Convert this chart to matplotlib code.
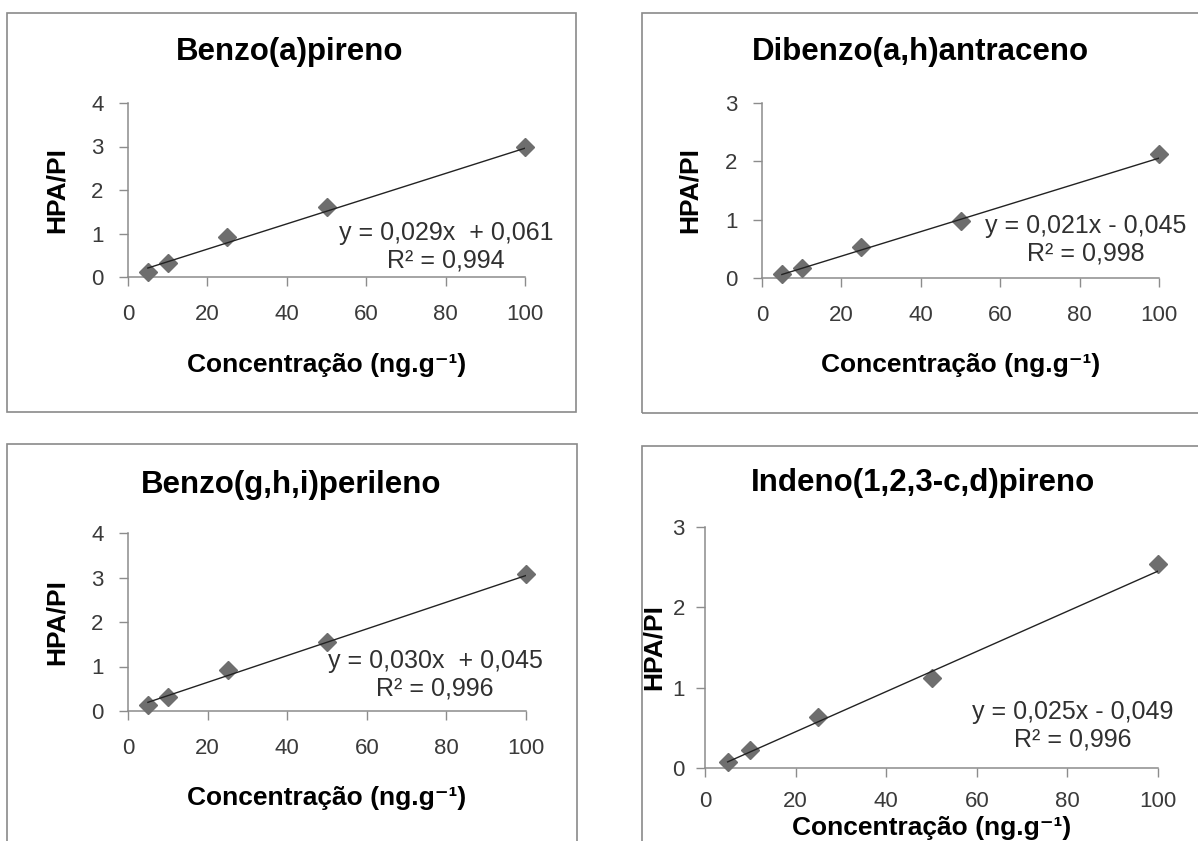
import matplotlib
matplotlib.use('Agg')
import matplotlib.pyplot as plt
from matplotlib import font_manager
from matplotlib.patches import Rectangle

# ==========================================
# DADOS
# ==========================================
conc = [5, 10, 25, 50, 100]   # Concentração (ng.g-1)

titles = ['Benzo(a)pireno', 'Dibenzo(a,h)antraceno',
          'Benzo(g,h,i)perileno', 'Indeno(1,2,3-c,d)pireno']

ratio_bap = [0.12, 0.33, 0.92, 1.60, 2.99]
ratio_dba = [0.07, 0.18, 0.53, 0.97, 2.12]
ratio_bghi = [0.14, 0.31, 0.93, 1.56, 3.07]
ratio_ind = [0.07, 0.22, 0.63, 1.12, 2.54]

slopes = [0.029, 0.021, 0.030, 0.025]
intercepts = [0.061, -0.045, 0.045, -0.049]
r2_labels = ['0,994', '0,998', '0,996', '0,996']
y_max = [4, 3, 4, 3]
x_ticks = [0, 20, 40, 60, 80, 100]

series = [ratio_bap, ratio_dba, ratio_bghi, ratio_ind]

# ==========================================
# LAYOUT (pixels da imagem de referência)
# ==========================================
W, H = 1198, 841
# caixa: left, top, right, bottom
boxes = [(7, 13, 576, 412), (642, 13, 1210, 413),
         (7, 444, 577, 860), (642, 446, 1210, 860)]
# eixos: x0, x100, y0, ytop
axes_px = [(128, 525, 277, 103), (762, 1159, 278, 103),
           (128, 526, 711, 533), (705, 1158, 768, 527)]
title_px = [(290, 52), (920, 52), (291, 485), (923, 483)]
xlabel_py = [365, 365, 798, 828]
ylabel_px = [57, 690, 57, 654]
eq_px = [(446, 247), (1086, 240), (435, 675), (1073, 726)]
xpad = [13, 13, 13, 10]
ypad = [11, 11, 11, 8]

names = {f.name for f in font_manager.fontManager.ttflist}
tick_font = ['Liberation Sans Narrow', 'Liberation Sans', 'DejaVu Sans'] \
    if 'Liberation Sans Narrow' in names else ['Liberation Sans', 'DejaVu Sans']
main_font = ['Liberation Sans', 'DejaVu Sans']
plt.rcParams['font.family'] = main_font

AX_GRAY = '#8c8c8c'


def fx(px):
    return px / W


def fy(py):
    return 1 - py / H


fig = plt.figure(figsize=(W / 100, H / 100), dpi=100)
fig.patch.set_facecolor('white')

for i in range(4):
    l, t, r, b = boxes[i]
    fig.add_artist(Rectangle((fx(l), fy(b)), fx(r - l), (b - t) / H,
                             transform=fig.transFigure, fill=False,
                             ec='#8a8a8a', lw=1.2))

    x0, x100, y0, ytop = axes_px[i]
    ax = fig.add_axes([fx(x0), fy(y0), fx(x100 - x0), (y0 - ytop) / H])
    ax.set_xlim(0, 100)
    ax.set_ylim(0, y_max[i])
    ax.set_xticks(x_ticks)
    ax.set_yticks(range(y_max[i] + 1))
    ax.patch.set_alpha(0)
    for s in ['top', 'right']:
        ax.spines[s].set_visible(False)
    for s in ['left', 'bottom']:
        ax.spines[s].set_color(AX_GRAY)
        ax.spines[s].set_linewidth(1.1)
    ax.tick_params(direction='out', length=6.5, width=1.0, color=AX_GRAY,
                   labelsize=16, labelcolor='#3a3a3a')
    ax.tick_params(axis='x', pad=xpad[i])
    ax.tick_params(axis='y', pad=ypad[i])
    for lab in ax.get_xticklabels() + ax.get_yticklabels():
        lab.set_family(tick_font)

    # pontos
    ax.plot(conc, series[i], linestyle='none', marker='D', ms=9.5,
            color='#6e6e6e', zorder=3, clip_on=False)
    # linha de tendência
    xs = [conc[0], conc[-1]]
    ys = [slopes[i] * x + intercepts[i] for x in xs]
    ax.plot(xs, ys, color='#222222', lw=1.0, zorder=4)

    # equação
    if intercepts[i] >= 0:
        eq = f'y = {slopes[i]:.3f}x  + {intercepts[i]:.3f}'
    else:
        eq = f'y = {slopes[i]:.3f}x - {abs(intercepts[i]):.3f}'
    eq = eq.replace('.', ',') + f'\nR² = {r2_labels[i]}'
    ex, ey = eq_px[i]
    fig.text(fx(ex), fy(ey), eq, ha='center', va='center',
             multialignment='center', fontsize=18, color='#303030',
             linespacing=1.2)

    # título e rótulos
    tx, ty = title_px[i]
    fig.text(fx(tx), fy(ty), titles[i], ha='center', va='center',
             fontsize=22.5, fontweight='bold', color='black')
    fig.text(fx((x0 + x100) / 2), fy(xlabel_py[i]), 'Concentração (ng.g⁻¹)',
             ha='center', va='center', fontsize=19, fontweight='bold')
    fig.text(fx(ylabel_px[i]), fy((y0 + ytop) / 2), 'HPA/PI', rotation=90,
             ha='center', va='center', fontsize=19, fontweight='bold')

fig.savefig('out.png', dpi=100)
